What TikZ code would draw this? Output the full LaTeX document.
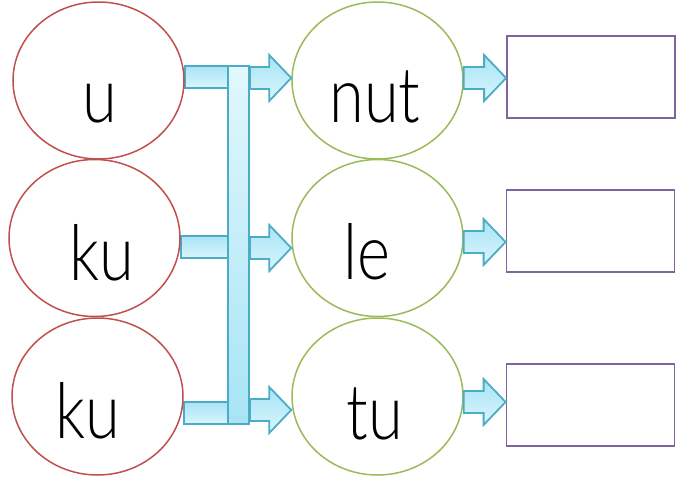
\documentclass[tikz,border=0pt]{standalone}
\usepackage{fontspec}
\newfontfamily\kidfont[FakeStretch=0.82]{Lato Light}
\usetikzlibrary{shapes.geometric,calc,backgrounds}

\definecolor{ballred}{HTML}{C0504D}
\definecolor{ballgreen}{HTML}{9BBB59}
\definecolor{boxviolet}{HTML}{8064A2}
\definecolor{pipeline}{HTML}{4BACC6}
\definecolor{pipedark}{HTML}{A8E4F6}
\definecolor{pipelight}{HTML}{DAF5FC}

\tikzset{
  ball/.style={ellipse, draw, line width=1.5pt, minimum width=171pt, minimum height=157pt, inner sep=0pt},
  word/.style={anchor=base, inner sep=0pt, font=\kidfont\fontsize{77}{77}\selectfont},
  answer/.style={draw=boxviolet, line width=1.8pt, minimum width=168pt, minimum height=82pt, inner sep=0pt},
  pipe/.style={draw=pipeline, line width=1.8pt, top color=pipedark, bottom color=pipelight},
}

% bar from #1 to #2 at height #3
\newcommand\fatbar[3]{%
  \path[pipe] ($(#1 |- 0,#3)+(0,-11)$) rectangle ($(#2 |- 0,#3)+(2,11)$);}
% block arrow from #1 to #2 at height #3
\newcommand\fatarrow[3]{%
  \path[pipe] ($(#1 |- 0,#3)+(0,-11)$) -- ($(#2 |- 0,#3)+(-22,-11)$)
    -- ($(#2 |- 0,#3)+(-22,-23)$) -- (#2 |- 0,#3) -- ($(#2 |- 0,#3)+(-22,23)$)
    -- ($(#2 |- 0,#3)+(-22,11)$) -- ($(#1 |- 0,#3)+(0,11)$) -- cycle;}

\begin{document}
\begin{tikzpicture}[x=1pt,y=-1pt]
\useasboundingbox (0,0) rectangle (689,488);

% syllables
\node[ball, draw=ballred] (s1) at (98.5,80.5) {};
\node[ball, draw=ballred] (s2) at (94.5,238) {};
\node[ball, draw=ballred] (s3) at (97.5,396.5) {};
\node[word] (s1t) at (100,122) {u};
\node[word] (s2t) at (101.5,280) {ku};
\node[word] (s3t) at (88,438) {ku};

% endings
\node[ball, draw=ballgreen] (w1) at (377.5,80.5) {};
\node[ball, draw=ballgreen] (w2) at (377.5,238) {};
\node[ball, draw=ballgreen] (w3) at (377.5,396.5) {};
\node[word] (w1t) at (375,122) {nut};
\node[word] (w2t) at (367,279) {le};
\node[word] (w3t) at (375,439) {tu};

% empty answer boxes
\node[answer] (b1) at (591,77) {};
\node[answer] (b2) at (590.5,231) {};
\node[answer] (b3) at (590.5,405) {};

\node[pipe, top color=pipelight!80!white, bottom color=pipedark, minimum width=21pt, minimum height=358pt, inner sep=0pt] (bus) at (238.5,245) {};

\begin{scope}[on background layer]
\fatbar{s1.east}{bus.west}{77}
\fatbar{s2.east}{bus.west}{247}
\fatbar{s3.east}{bus.west}{413}
\end{scope}

\fatarrow{bus.east}{w1.west}{78}
\fatarrow{bus.east}{w2.west}{248}
\fatarrow{bus.east}{w3.west}{410}

\fatarrow{w1.east}{b1.west}{78}
\fatarrow{w2.east}{b2.west}{242}
\fatarrow{w3.east}{b3.west}{402}

\end{tikzpicture}
\end{document}
